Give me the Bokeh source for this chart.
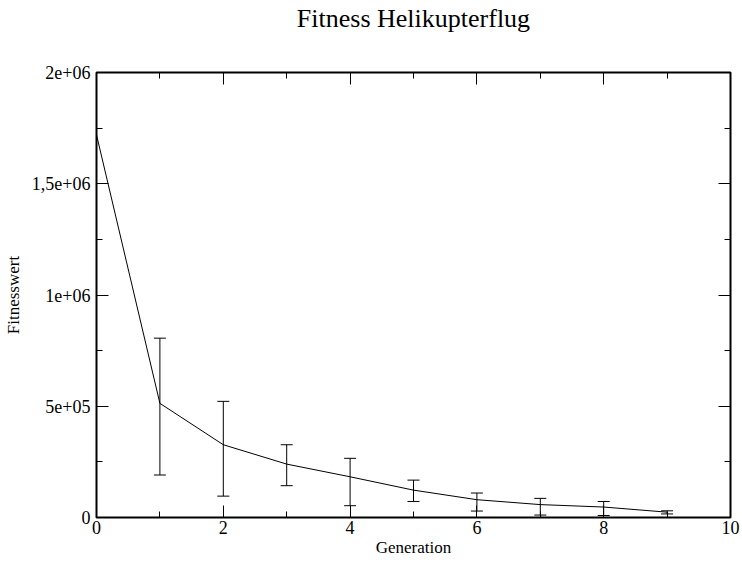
from bokeh.plotting import figure
from bokeh.models import (Range1d, FixedTicker, LinearAxis, Whisker, TeeHead,
                          ColumnDataSource)
from bokeh.embed import file_html
from bokeh.resources import INLINE

# ---- data ----
generation = [0, 1, 2, 3, 4, 5, 6, 7, 8, 9]
fitness = [1720000, 513000, 327000, 240000, 183000, 123000, 80000, 58000, 47000, 24000]
err_gen = [1, 2, 3, 4, 5, 6, 7, 8, 9]
err_upper = [806000, 522000, 327000, 266000, 168000, 110000, 86000, 72000, 30000]
err_lower = [191000, 96000, 143000, 53000, 72000, 29000, 11000, 9000, 16000]

x_major = [0, 2, 4, 6, 8, 10]
x_minor = [1, 3, 5, 7, 9]
y_major = [0, 500000, 1000000, 1500000, 2000000]
y_minor = [250000, 750000, 1250000, 1750000]
y_labels = ["0", "5e+05", "1e+06", "1,5e+06", "2e+06"]

title_text = "Fitness Helikupterflug"
x_title = "Generation"
y_title = "Fitnesswert"

FONT = "Liberation Serif"

p = figure(width=742, height=562, output_backend="svg", toolbar_location=None,
           x_range=Range1d(0, 10), y_range=Range1d(0, 2000000),
           min_border_left=95, min_border_right=12, min_border_top=72,
           min_border_bottom=45, x_axis_location=None, y_axis_location=None)

p.grid.visible = False
p.outline_line_color = "black"
p.outline_line_width = 2
p.outline_line_alpha = 1.0
p.background_fill_color = "white"
p.border_fill_color = "white"

xt = FixedTicker(ticks=x_major, minor_ticks=x_minor)
yt = FixedTicker(ticks=y_major, minor_ticks=y_minor)


def style(ax, show_labels):
    ax.axis_line_color = None
    ax.major_tick_in = 12
    ax.major_tick_out = 0
    ax.minor_tick_in = 6
    ax.minor_tick_out = 0
    ax.major_tick_line_color = "black"
    ax.minor_tick_line_color = "black"
    ax.major_tick_line_width = 1
    ax.minor_tick_line_width = 1
    ax.major_label_text_font = FONT
    ax.major_label_text_color = "black"
    ax.axis_label_text_font = FONT
    ax.axis_label_text_font_style = "normal"
    ax.axis_label_text_color = "black"
    if show_labels:
        ax.major_label_text_font_size = "18px"
        ax.axis_label_text_font_size = "17px"
    else:
        ax.major_label_text_font_size = "0px"
        ax.major_label_standoff = 0
        ax.major_label_text_alpha = 0


bottom = LinearAxis(ticker=xt, axis_label=x_title)
style(bottom, True)
bottom.major_label_standoff = 3
bottom.axis_label_standoff = 1
p.add_layout(bottom, "below")

left = LinearAxis(ticker=yt, axis_label=y_title)
style(left, True)
left.major_label_standoff = 6
left.axis_label_standoff = 6
left.major_label_overrides = {float(v): s for v, s in zip(y_major, y_labels)}
p.add_layout(left, "left")

# mirrored top axis carries the chart title as its label
top = LinearAxis(ticker=xt, axis_label=title_text)
style(top, False)
top.axis_label_text_font_size = "26px"
top.axis_label_standoff = 40
p.add_layout(top, "above")

right = LinearAxis(ticker=yt)
style(right, False)
p.add_layout(right, "right")

p.line(generation, fitness, line_color="black", line_width=1)

src = ColumnDataSource(dict(x=err_gen, upper=err_upper, lower=err_lower))
w = Whisker(base="x", upper="upper", lower="lower", source=src,
            line_color="black", line_width=1,
            upper_head=TeeHead(size=12, line_color="black", line_width=1),
            lower_head=TeeHead(size=12, line_color="black", line_width=1))
p.add_layout(w)

open("out.html", "w").write(file_html(p, INLINE))
